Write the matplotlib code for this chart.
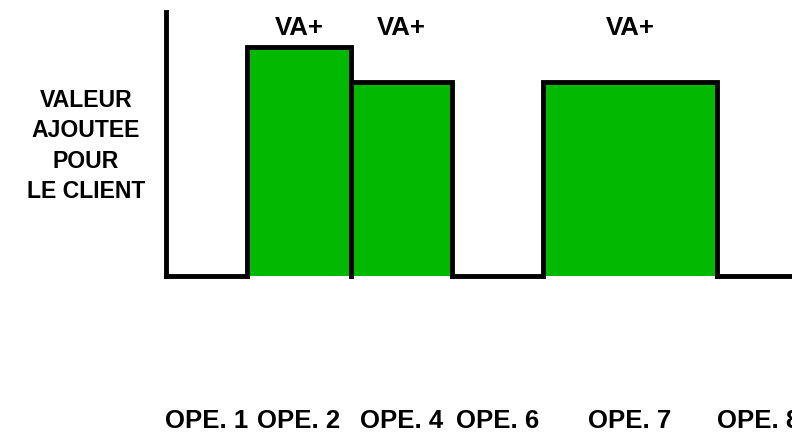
import matplotlib
matplotlib.use("Agg")
import matplotlib.pyplot as plt
import matplotlib.transforms as mtransforms
import numpy as np

plt.rcParams['font.family'] = ['Liberation Sans', 'DejaVu Sans']

# Data
operations = ["OPE. 1", "OPE. 2", "OPE. 4", "OPE. 6", "OPE. 7", "OPE. 8"]
durations = [0.81, 1.04, 1.01, 0.91, 1.74, 0.84]
values = [0.0, 1.18, 1.0, 0.0, 1.0, 0.0]
value_tags = ["", "VA+", "VA+", "", "VA+", ""]
ylabel_text = "VALEUR\nAJOUTEE\nPOUR\nLE CLIENT"

GREEN = "#00B900"
LW = 3.5
W, H = 792, 434
fig = plt.figure(figsize=(W / 100, H / 100), dpi=100)

ax_left = 166 / W
ax_bottom = (H - 276) / H
ax_top = (H - 12) / H
ax = fig.add_axes([ax_left, ax_bottom, 1.0 - ax_left, ax_top - ax_bottom])

edges = np.concatenate([[0.0], np.cumsum(durations)])
lefts = edges[:-1]
centers = (edges[:-1] + edges[1:]) / 2

ax.bar(lefts, values, width=durations, align='edge', color=GREEN,
       edgecolor='none', linewidth=0, zorder=1)

# outline: baseline segments for zero values, open-bottom boxes for bars
for l, r, v in zip(edges[:-1], edges[1:], values):
    if v > 0:
        ax.plot([l, l, r, r], [0, v, v, 0], color='black', lw=LW,
                solid_joinstyle='miter', solid_capstyle='projecting',
                zorder=3, clip_on=False)
    else:
        ax.plot([l, r], [0, 0], color='black', lw=LW,
                solid_joinstyle='miter', solid_capstyle='projecting',
                zorder=3, clip_on=False)

ax.set_xlim(0, 6.26)
ax.set_ylim(0, 264 / 194)

for s in ['top', 'right', 'bottom']:
    ax.spines[s].set_visible(False)
ax.spines['left'].set_linewidth(LW)
ax.spines['left'].set_color('black')
ax.spines['left'].set_capstyle('projecting')
ax.set_xticks([])
ax.set_yticks([])
ax.patch.set_visible(False)

trans_bottom = mtransforms.blended_transform_factory(ax.transData, fig.transFigure)
for c, lab in zip(centers, operations):
    ax.text(c, (H - 421.5) / H, lab, transform=trans_bottom, ha='center', va='center',
            fontsize=18.5, fontweight='bold', clip_on=False)

for c, tag in zip(centers, value_tags):
    if tag:
        ax.text(c, (H - 28) / H, tag, transform=trans_bottom, ha='center', va='center',
                fontsize=18.5, fontweight='bold', clip_on=False)

fig.text(86 / W, (H - 146) / H, ylabel_text, ha='center', va='center',
         fontsize=16.6, fontweight='bold', linespacing=1.42, multialignment='center')

fig.savefig("out.png", dpi=100)
